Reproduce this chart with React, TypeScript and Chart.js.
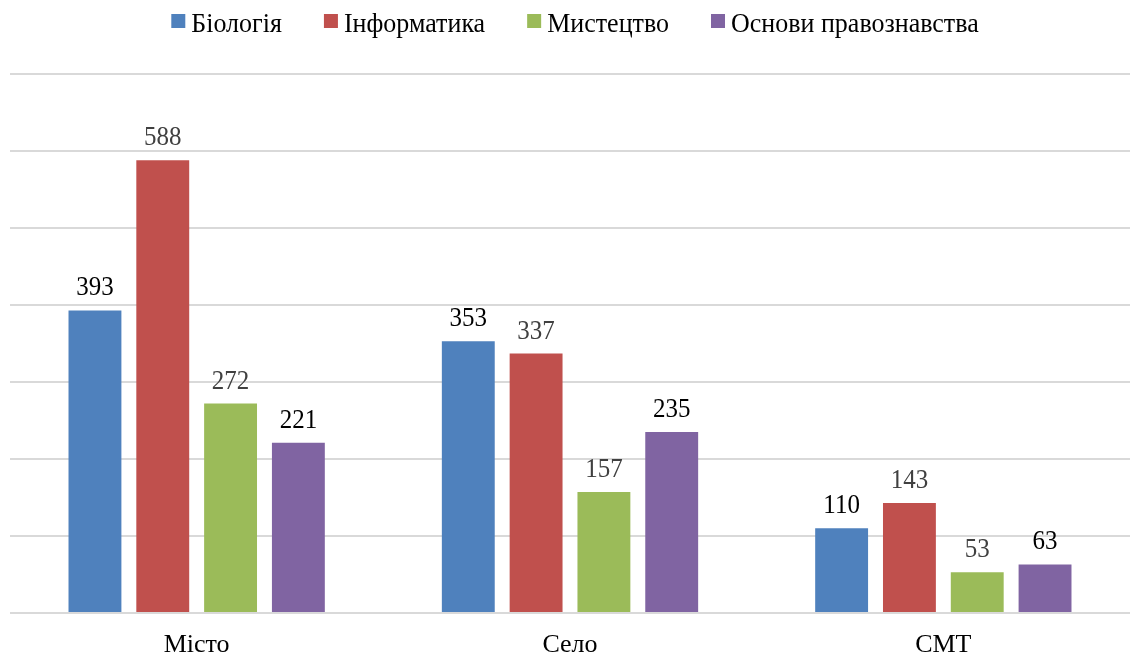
import React, { useEffect, useRef } from "react";
import { Chart, registerables } from "chart.js";

Chart.register(...registerables);

const categories = ["Місто", "Село", "СМТ"];
const seriesNames = ["Біологія", "Інформатика", "Мистецтво", "Основи правознавства"];
const biology = [393, 353, 110];
const informatics = [588, 337, 143];
const art = [272, 157, 53];
const law = [221, 235, 63];
const seriesValues = [biology, informatics, art, law];
const seriesColors = ["#4F81BD", "#C0504D", "#9BBB59", "#8064A2"];
const labelColors = ["#000000", "#404040", "#404040", "#000000"];
const yMin = 0;
const yMax = 700;
const yStep = 100;

const FONT = "'Liberation Serif', 'Times New Roman', serif";
const TEXT_STRETCH = 1.09;

const valueLabels = {
  id: "valueLabels",
  afterDatasetsDraw(chart: any) {
    const ctx = chart.ctx;
    ctx.save();
    ctx.font = `25px ${FONT}`;
    ctx.textAlign = "center";
    ctx.textBaseline = "alphabetic";
    chart.data.datasets.forEach((ds: any, i: number) => {
      const meta = chart.getDatasetMeta(i);
      meta.data.forEach((bar: any, j: number) => {
        ctx.save();
        ctx.translate(bar.x, bar.y - 15);
        ctx.scale(1, TEXT_STRETCH);
        ctx.fillStyle = labelColors[i];
        ctx.fillText(String(ds.data[j]), 0, 0);
        ctx.restore();
      });
    });
    ctx.restore();
  },
};

const customLegend = {
  id: "customLegend",
  afterDraw(chart: any) {
    const ctx = chart.ctx;
    ctx.save();
    ctx.font = `26px ${FONT}`;
    ctx.textBaseline = "alphabetic";
    ctx.textAlign = "left";
    const box = 14;
    const gapText = 6;
    const gapItem = 42;
    const widths = seriesNames.map((n) => ctx.measureText(n).width);
    const total =
      widths.reduce((a, w) => a + box + gapText + w, 0) + gapItem * (seriesNames.length - 1);
    let x = chart.width / 2 + 10 - total / 2;
    seriesNames.forEach((name, i) => {
      ctx.fillStyle = seriesColors[i];
      ctx.fillRect(x, 14, box, box);
      ctx.save();
      ctx.translate(x + box + gapText, 32);
      ctx.scale(1, TEXT_STRETCH);
      ctx.fillStyle = "#000000";
      ctx.fillText(name, 0, 0);
      ctx.restore();
      x += box + gapText + widths[i] + gapItem;
    });
    ctx.restore();
  },
};

export default function App() {
  const canvasRef = useRef<HTMLCanvasElement | null>(null);

  useEffect(() => {
    if (!canvasRef.current) return;
    const chart = new Chart(canvasRef.current, {
      type: "bar",
      data: {
        labels: categories,
        datasets: seriesNames.map((name, i) => ({
          label: name,
          data: seriesValues[i],
          backgroundColor: seriesColors[i],
          borderWidth: 0,
          categoryPercentage: 0.7265,
          barPercentage: 0.78,
        })),
      },
      options: {
        animation: false,
        responsive: true,
        maintainAspectRatio: false,
        layout: { padding: { top: 74, left: 10, right: 0, bottom: 0 } },
        plugins: {
          legend: { display: false },
          tooltip: { enabled: false },
          title: { display: false },
        },
        scales: {
          x: {
            grid: { display: false, drawTicks: false },
            border: { display: false },
            ticks: {
              color: "#000000",
              font: { family: FONT, size: 26 },
              padding: 17,
              maxRotation: 0,
            },
            afterFit(scale: any) {
              scale.height = 45;
            },
          },
          y: {
            min: yMin,
            max: yMax,
            grid: { color: "#d9d9d9", lineWidth: 2, drawTicks: false },
            border: { display: false },
            ticks: { display: false, stepSize: yStep },
          },
        },
      },
      plugins: [valueLabels, customLegend],
    });
    return () => chart.destroy();
  }, []);

  return (
    <div style={{ position: "fixed", left: 0, top: 0, width: 1130, height: 658, background: "#ffffff" }}>
      <canvas ref={canvasRef} />
    </div>
  );
}
